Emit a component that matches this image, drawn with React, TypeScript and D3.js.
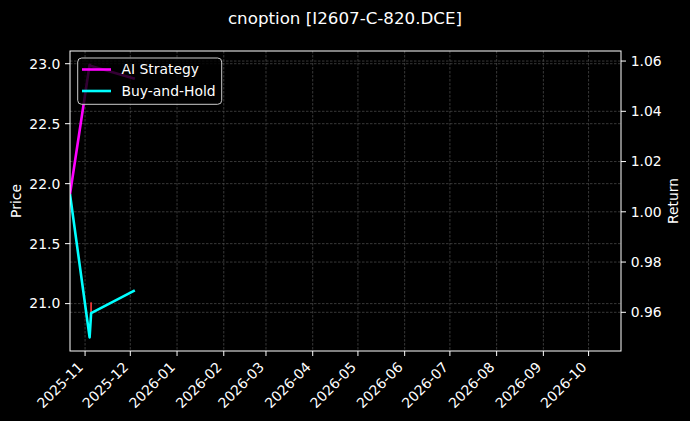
import React from "react";
import * as d3 from "d3";

// values
const dates = ["2025-10-22", "2025-11-04", "2025-11-05", "2025-12-04"];
const aiStrategy = [1.007, 1.0585, 1.058, 1.053];
const buyAndHold = [1.007, 0.95, 0.9597, 0.9687];

const candleDates = ["2025-11-05"];
const candleOpen = [21.01];
const candleClose = [20.92];
const candleHigh = [21.01];
const candleLow = [20.92];

const priceTicks = [21.0, 21.5, 22.0, 22.5, 23.0];
const returnTicks = [0.96, 0.98, 1.0, 1.02, 1.04, 1.06];

const W = 690;
const H = 421;
const M = { top: 51, right: 69, bottom: 70, left: 70 };
const FONT = "DejaVu Sans, sans-serif";
const GRID = "#505050";
const FS = 13.9;

const parse = d3.timeParse("%Y-%m-%d");

export default function App() {
  const x = d3
    .scaleTime()
    .domain([new Date(2025, 9, 22), new Date(2026, 9, 22, 12)])
    .range([M.left, W - M.right]);
  const yPrice = d3.scaleLinear().domain([20.605, 23.106]).range([H - M.bottom, M.top]);
  const yRet = d3.scaleLinear().domain([0.9446, 1.064]).range([H - M.bottom, M.top]);

  const monthTicks = x.ticks(d3.timeMonth.every(1)!);
  const fmt = d3.timeFormat("%Y-%m");

  const pts = dates.map((d, i) => ({ d: parse(d)!, ai: aiStrategy[i], bh: buyAndHold[i] }));
  const aiLine = d3
    .line<(typeof pts)[number]>()
    .x((p) => x(p.d))
    .y((p) => yRet(p.ai));
  const bhLine = d3
    .line<(typeof pts)[number]>()
    .x((p) => x(p.d))
    .y((p) => yRet(p.bh));

  const x0 = M.left;
  const x1 = W - M.right;
  const y0 = M.top;
  const y1 = H - M.bottom;

  return (
    <svg
      width={W}
      height={H}
      style={{ position: "absolute", left: 0, top: 0, background: "#000" }}
      fontFamily={FONT}
    >
      <rect width={W} height={H} fill="#000" />
      <defs>
        <clipPath id="plot">
          <rect x={x0} y={y0} width={x1 - x0} height={y1 - y0} />
        </clipPath>
      </defs>

      {/* grid */}
      <g stroke={GRID} strokeWidth={0.7} strokeDasharray="2.5,1.5">
        {monthTicks.map((t) => (
          <line key={"gx" + t.getTime()} x1={x(t)} x2={x(t)} y1={y0} y2={y1} />
        ))}
        {priceTicks.map((t) => (
          <line key={"gp" + t} x1={x0} x2={x1} y1={yPrice(t)} y2={yPrice(t)} />
        ))}
        {returnTicks.map((t) => (
          <line key={"gr" + t} x1={x0} x2={x1} y1={yRet(t)} y2={yRet(t)} />
        ))}
      </g>

      {/* candles */}
      <g clipPath="url(#plot)">
        {candleDates.map((d, i) => {
          const cx = x(parse(d)!);
          const col = "#ff3b3b";
          return (
            <g key={d}>
              <line
                x1={cx}
                x2={cx}
                y1={yPrice(candleHigh[i])}
                y2={yPrice(candleLow[i])}
                stroke={col}
                strokeWidth={0.8}
              />
              <rect
                x={cx - 0.7}
                width={1.4}
                y={yPrice(Math.max(candleOpen[i], candleClose[i]))}
                height={Math.abs(yPrice(candleOpen[i]) - yPrice(candleClose[i]))}
                fill={col}
              />
            </g>
          );
        })}
      </g>

      {/* lines */}
      <g clipPath="url(#plot)" fill="none" strokeWidth={2.6} strokeLinejoin="round">
        <path d={aiLine(pts)!} stroke="#ff00ff" />
        <path d={bhLine(pts)!} stroke="#00ffff" />
      </g>

      {/* spines */}
      <rect x={x0} y={y0} width={x1 - x0} height={y1 - y0} fill="none" stroke="#fff" strokeWidth={1} />

      {/* axes */}
      <g fontSize={FS} fill="#fff">
        {priceTicks.map((t) => (
          <g key={"lp" + t}>
            <line x1={x0 - 5} x2={x0} y1={yPrice(t)} y2={yPrice(t)} stroke="#fff" />
            <text x={x0 - 9.7} y={yPrice(t)} dy="0.35em" textAnchor="end">
              {t.toFixed(1)}
            </text>
          </g>
        ))}
        {returnTicks.map((t) => (
          <g key={"lr" + t}>
            <line x1={x1} x2={x1 + 5} y1={yRet(t)} y2={yRet(t)} stroke="#fff" />
            <text x={x1 + 9.7} y={yRet(t)} dy="0.35em" textAnchor="start">
              {t.toFixed(2)}
            </text>
          </g>
        ))}
        {monthTicks.map((t) => (
          <g key={"lx" + t.getTime()}>
            <line x1={x(t)} x2={x(t)} y1={y1} y2={y1 + 5} stroke="#fff" />
            <text
              transform={`translate(${x(t) - 1},${y1 + 17}) rotate(-45)`}
              textAnchor="end"
            >
              {fmt(t)}
            </text>
          </g>
        ))}
        <text transform={`translate(20.5,${(y0 + y1) / 2}) rotate(-90)`} textAnchor="middle">
          Price
        </text>
        <text transform={`translate(677.5,${(y0 + y1) / 2}) rotate(-90)`} textAnchor="middle">
          Return
        </text>
      </g>

      {/* title */}
      <text x={345} y={24} fontSize={16.7} fill="#fff" textAnchor="middle">
        cnoption [I2607-C-820.DCE]
      </text>

      {/* legend */}
      <g>
        <rect
          x={77.7}
          y={58}
          width={144}
          height={46.3}
          rx={4}
          fill="#000"
          fillOpacity={0.8}
          stroke="#cccccc"
          strokeWidth={1}
        />
        <line x1={82} x2={111} y1={69.5} y2={69.5} stroke="#ff00ff" strokeWidth={2.6} />
        <line x1={82} x2={111} y1={91} y2={91} stroke="#00ffff" strokeWidth={2.6} />
        <text x={121.5} y={69.5} dy="0.35em" fontSize={FS} fill="#fff">
          AI Strategy
        </text>
        <text x={121.5} y={91} dy="0.35em" fontSize={FS} fill="#fff">
          Buy-and-Hold
        </text>
      </g>
    </svg>
  );
}
